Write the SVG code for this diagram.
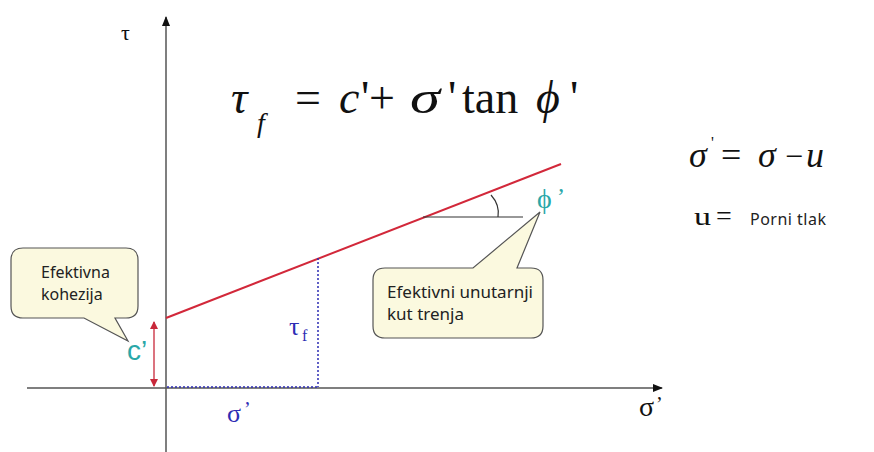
<svg xmlns="http://www.w3.org/2000/svg" width="874" height="452" viewBox="0 0 874 452">
<defs>
<marker id="ah" markerWidth="10" markerHeight="8" refX="9" refY="4" orient="auto" markerUnits="userSpaceOnUse"><path d="M0,0 L10,4 L0,8 Z" fill="#111"/></marker>
<marker id="rh" markerWidth="8" markerHeight="8" refX="7" refY="4" orient="auto-start-reverse" markerUnits="userSpaceOnUse"><path d="M0,0 L8,4 L0,8 Z" fill="#c8283a"/></marker>
<style>
.ax{stroke:#555;stroke-width:1.5;fill:none}
.call{fill:#fbf9df;stroke:#555;stroke-width:1.2}
.ct{font-family:"Noto Sans","Open Sans",sans-serif;fill:#222}
.tm{font-family:"Liberation Serif","Tinos","DejaVu Serif",serif;fill:#111}
.it{font-style:italic}
.blue{fill:#2d2db4}
.teal{fill:#2aa7a8}
.dot{stroke:#2d2db4;stroke-width:1.5;stroke-dasharray:2,2;fill:none}
</style>
</defs>
<rect width="874" height="452" fill="#fff"/>
<g id="connectors">
<line class="ax" x1="166" y1="452" x2="166" y2="17" marker-end="url(#ah)"/>
<line class="ax" x1="27" y1="388" x2="662" y2="388" marker-end="url(#ah)"/>
<line x1="166" y1="318" x2="561" y2="164" stroke="#d2283a" stroke-width="2"/>
<line x1="154" y1="322" x2="154" y2="386" stroke="#c8283a" stroke-width="1.3" marker-start="url(#rh)" marker-end="url(#rh)"/>
<line class="dot" x1="318" y1="258" x2="318" y2="387"/>
<line class="dot" x1="167" y1="387" x2="318" y2="387"/>
<line x1="423" y1="217" x2="523" y2="217" stroke="#333" stroke-width="1.2"/>
<path d="M491,195 Q500,205 498,217" fill="none" stroke="#333" stroke-width="1.2"/>
</g>
<g id="axis-labels">
<text class="tm" x="121" y="40" font-size="22">τ</text>
<text class="tm" x="639" y="416" font-size="28">σ</text>
<text class="tm" x="656" y="411" font-size="20">’</text>
<text class="teal" x="127" y="360" font-size="28" font-family="'Liberation Sans',Arial,sans-serif">c’</text>
<text class="tm teal" x="537" y="208" font-size="28">ϕ</text>
<text class="tm teal" x="557" y="204" font-size="24">’</text>
<text class="tm blue" x="289" y="335" font-size="26">τ</text>
<text class="tm blue" x="302" y="341" font-size="16">f</text>
<text class="tm blue" x="227" y="422" font-size="26">σ</text>
<text class="tm blue" x="244" y="416" font-size="20">’</text>
</g>
<g id="formula-main" class="tm" font-size="46">
<text class="it" x="231" y="113">τ</text>
<text class="it" x="257" y="132" font-size="28">f</text>
<text x="295" y="113">=</text>
<text class="it" x="339" y="113">c</text>
<text x="361" y="113">'</text>
<text x="369" y="113">+</text>
<text class="it" x="410" y="113" textLength="30" lengthAdjust="spacingAndGlyphs">σ</text>
<text x="448" y="113">'</text>
<text x="462" y="113">tan</text>
<text class="it" x="536" y="113">ϕ</text>
<text x="570" y="113">'</text>
</g>
<g id="formula-right" class="tm">
<text class="it" x="689" y="167" font-size="36">σ</text>
<text x="711" y="148" font-size="16">'</text>
<text x="721" y="167" font-size="36">=</text>
<text class="it" x="758" y="167" font-size="36">σ</text>
<text x="785" y="167" font-size="32">−</text>
<text class="it" x="806" y="167" font-size="36">u</text>
<text x="694" y="225" font-size="26" textLength="17" lengthAdjust="spacingAndGlyphs">u</text>
<text x="716" y="225" font-size="28">=</text>
<text class="ct" x="750" y="225" font-size="16" textLength="76">Porni tlak</text>
</g>
<g id="callout-kohezija">
<path class="call" d="M23,248 H126 Q138,248 138,260 V306 Q138,318 126,318 H115 L128,341 L84,318 H23 Q11,318 11,306 V260 Q11,248 23,248 Z"/>
<text class="ct" x="41" y="278" font-size="16">Efektivna</text>
<text class="ct" x="41" y="300" font-size="16">kohezija</text>
</g>
<g id="callout-kut">
<path class="call" d="M385,268 H473 L540,212 L517,268 H531 Q543,268 543,280 V326 Q543,338 531,338 H385 Q373,338 373,326 V280 Q373,268 385,268 Z"/>
<text class="ct" x="387" y="298" font-size="17">Efektivni unutarnji</text>
<text class="ct" x="387" y="320" font-size="17">kut trenja</text>
</g>
</svg>
